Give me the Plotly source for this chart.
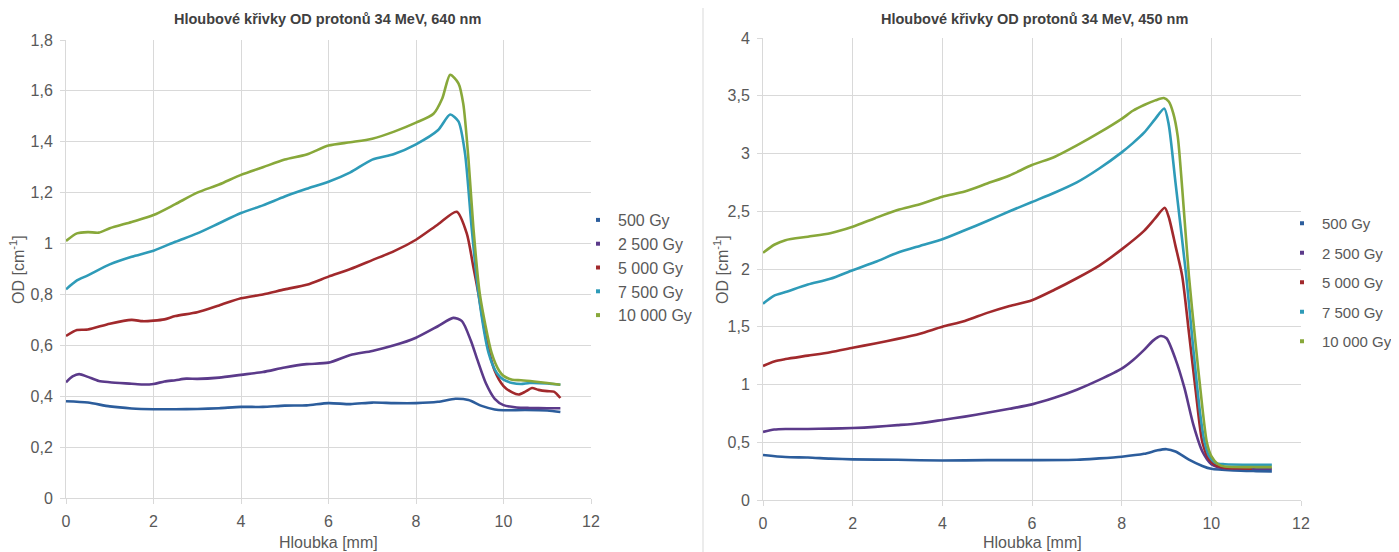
import plotly.graph_objects as go

# ---------------- data: 640 nm (left) ----------------
labels = ["500 Gy", "2 500 Gy", "5 000 Gy", "7 500 Gy", "10 000 Gy"]
colors = ["#2C5D9C", "#5B3A8A", "#A1292C", "#2E9BB8", "#88A83A"]

l_x_500 = [0, 0.5, 1, 1.5, 2, 2.5, 3, 3.5, 4, 4.5, 5, 5.5, 6, 6.5, 7, 7.5, 8, 8.5, 8.9, 9.2, 9.5, 9.8, 10, 10.5, 11, 11.3]
l_y_500 = [0.38, 0.375, 0.36, 0.352, 0.349, 0.349, 0.35, 0.353, 0.358, 0.358, 0.363, 0.364, 0.373, 0.369, 0.375, 0.373, 0.373, 0.378, 0.39, 0.385, 0.362, 0.348, 0.345, 0.346, 0.344, 0.338]

l_x_2500 = [0, 0.15, 0.3, 0.5, 0.75, 1, 1.5, 1.75, 2, 2.25, 2.5, 2.75, 3, 3.5, 4, 4.5, 5, 5.5, 6, 6.5, 7, 7.5, 8, 8.5, 8.85, 9.05, 9.25, 9.4, 9.6, 9.8, 10, 10.3, 10.6, 11, 11.3]
l_y_2500 = [0.455, 0.478, 0.487, 0.476, 0.46, 0.455, 0.449, 0.446, 0.448, 0.458, 0.463, 0.469, 0.468, 0.473, 0.484, 0.495, 0.513, 0.526, 0.532, 0.562, 0.578, 0.6, 0.63, 0.675, 0.708, 0.695, 0.62, 0.545, 0.45, 0.39, 0.365, 0.356, 0.354, 0.353, 0.353]

l_x_5000 = [0, 0.25, 0.5, 1, 1.5, 1.75, 2, 2.25, 2.5, 3, 3.5, 4, 4.5, 5, 5.5, 6, 6.5, 7, 7.5, 8, 8.5, 8.93, 9.16, 9.31, 9.43, 9.6, 9.8, 10, 10.2, 10.35, 10.5, 10.65, 10.8, 11.0, 11.15, 11.3]
l_y_5000 = [0.637, 0.66, 0.662, 0.685, 0.7, 0.695, 0.697, 0.702, 0.715, 0.73, 0.757, 0.785, 0.8, 0.82, 0.838, 0.87, 0.9, 0.935, 0.97, 1.015, 1.075, 1.125, 1.04, 0.909, 0.8, 0.63, 0.5, 0.44, 0.415, 0.407, 0.418, 0.432, 0.425, 0.42, 0.418, 0.393]

l_x_7500 = [0, 0.25, 0.5, 1, 1.5, 2, 2.5, 3, 3.5, 4, 4.5, 5, 5.5, 6, 6.5, 7, 7.5, 8, 8.5, 8.78, 8.97, 9.12, 9.27, 9.43, 9.66, 9.85, 10, 10.2, 10.4, 10.6, 11, 11.3]
l_y_7500 = [0.82, 0.855, 0.875, 0.918, 0.948, 0.972, 1.007, 1.04, 1.08, 1.12, 1.15, 1.185, 1.215, 1.243, 1.28, 1.33, 1.352, 1.39, 1.445, 1.507, 1.48, 1.355, 1.066, 0.8, 0.569, 0.49, 0.465, 0.452, 0.448, 0.452, 0.45, 0.445]

l_x_10000 = [0, 0.25, 0.5, 0.75, 1, 1.5, 2, 2.5, 3, 3.5, 4, 4.5, 5, 5.5, 6, 6.5, 7, 7.5, 8, 8.4, 8.6, 8.78, 8.97, 9.08, 9.2, 9.31, 9.46, 9.73, 9.9, 10, 10.2, 10.4, 10.7, 11, 11.3]
l_y_10000 = [1.01, 1.04, 1.045, 1.043, 1.06, 1.085, 1.112, 1.155, 1.2, 1.232, 1.27, 1.3, 1.33, 1.35, 1.385, 1.398, 1.412, 1.44, 1.475, 1.51, 1.57, 1.663, 1.63, 1.55, 1.33, 1.066, 0.8, 0.569, 0.5, 0.48, 0.465, 0.463, 0.458, 0.452, 0.445]

# ---------------- data: 450 nm (right) ----------------
r_x_500 = [0, 0.5, 1, 1.5, 2, 3, 4, 5, 6, 7, 7.5, 8, 8.5, 8.8, 9.0, 9.2, 9.5, 9.8, 10, 10.5, 11, 11.35]
r_y_500 = [0.39, 0.372, 0.368, 0.358, 0.352, 0.348, 0.342, 0.345, 0.345, 0.348, 0.36, 0.375, 0.4, 0.43, 0.44, 0.42, 0.35, 0.295, 0.27, 0.255, 0.25, 0.248]

r_x_2500 = [0, 0.25, 0.5, 1, 1.5, 2, 2.5, 3, 3.5, 4, 4.5, 5, 5.5, 6, 6.5, 7, 7.5, 8, 8.25, 8.5, 8.7, 8.87, 9.0, 9.2, 9.4, 9.6, 9.8, 10, 10.2, 10.5, 11, 11.35]
r_y_2500 = [0.59, 0.61, 0.615, 0.615, 0.618, 0.623, 0.633, 0.648, 0.665, 0.693, 0.722, 0.755, 0.79, 0.828, 0.885, 0.955, 1.04, 1.137, 1.21, 1.3, 1.38, 1.42, 1.4, 1.22, 0.97, 0.65, 0.42, 0.31, 0.28, 0.272, 0.27, 0.27]

r_x_5000 = [0, 0.25, 0.5, 1, 1.5, 2, 2.5, 3, 3.5, 4, 4.5, 5, 5.5, 6, 6.5, 7, 7.5, 8, 8.5, 8.75, 8.96, 9.05, 9.2, 9.35, 9.5, 9.65, 9.8, 9.95, 10.1, 10.3, 10.6, 10.9]
r_y_5000 = [1.16, 1.2, 1.22, 1.25, 1.28, 1.318, 1.355, 1.395, 1.44, 1.5, 1.55, 1.62, 1.68, 1.73, 1.82, 1.92, 2.03, 2.17, 2.33, 2.44, 2.53, 2.45, 2.2, 1.94, 1.45, 0.95, 0.5, 0.35, 0.3, 0.28, 0.275, 0.27]

r_x_7500 = [0, 0.25, 0.5, 1, 1.5, 2, 2.5, 3, 3.5, 4, 4.5, 5, 5.5, 6, 6.5, 7, 7.5, 8, 8.25, 8.5, 8.75, 8.95, 9.05, 9.2, 9.44, 9.6, 9.75, 9.85, 9.95, 10.1, 10.3, 11, 11.35]
r_y_7500 = [1.7, 1.77, 1.8, 1.865, 1.915, 1.99, 2.06, 2.14, 2.2, 2.257, 2.335, 2.415, 2.5, 2.58, 2.66, 2.75, 2.87, 3.01, 3.09, 3.18, 3.3, 3.39, 3.25, 2.75, 1.94, 1.3, 0.75, 0.5, 0.38, 0.32, 0.31, 0.305, 0.305]

r_x_10000 = [0, 0.25, 0.5, 1, 1.5, 2, 2.5, 3, 3.5, 4, 4.5, 5, 5.5, 6, 6.5, 7, 7.5, 8, 8.25, 8.5, 8.75, 8.94, 9.05, 9.15, 9.25, 9.35, 9.5, 9.65, 9.8, 9.9, 10, 10.15, 10.3, 11, 11.35]
r_y_10000 = [2.14, 2.21, 2.25, 2.28, 2.31, 2.366, 2.44, 2.51, 2.56, 2.626, 2.67, 2.74, 2.81, 2.9, 2.97, 3.07, 3.18, 3.3, 3.37, 3.42, 3.46, 3.48, 3.45, 3.35, 3.15, 2.7, 1.94, 1.35, 0.8, 0.5, 0.38, 0.31, 0.29, 0.285, 0.285]

left_title = "Hloubové křivky OD protonů 34 MeV, 640 nm"
right_title = "Hloubové křivky OD protonů 34 MeV, 450 nm"
x_title = "Hloubka [mm]"
y_title = "OD [cm<sup>-1</sup>]"
left_yticks = [0, 0.2, 0.4, 0.6, 0.8, 1, 1.2, 1.4, 1.6, 1.8]
left_yticklabels = ["0", "0,2", "0,4", "0,6", "0,8", "1", "1,2", "1,4", "1,6", "1,8"]
right_yticks = [0, 0.5, 1, 1.5, 2, 2.5, 3, 3.5, 4]
right_yticklabels = ["0", "0,5", "1", "1,5", "2", "2,5", "3", "3,5", "4"]
xticks = [0, 2, 4, 6, 8, 10, 12]

left_series = [(l_x_500, l_y_500), (l_x_2500, l_y_2500), (l_x_5000, l_y_5000), (l_x_7500, l_y_7500), (l_x_10000, l_y_10000)]
right_series = [(r_x_500, r_y_500), (r_x_2500, r_y_2500), (r_x_5000, r_y_5000), (r_x_7500, r_y_7500), (r_x_10000, r_y_10000)]

FONT = "Liberation Sans"
TXT = "#595959"
GRID = "#D9D9D9"

fig = go.Figure()

for i, (xs, ys) in enumerate(left_series):
    fig.add_trace(go.Scatter(x=xs, y=ys, mode="lines", line=dict(color=colors[i], width=2.6, shape="spline", smoothing=0.7),
                             xaxis="x", yaxis="y", showlegend=False, hoverinfo="skip"))
    fig.add_trace(go.Scatter(x=[None], y=[None], mode="markers", name=labels[i],
                             marker=dict(color=colors[i], symbol="square", size=4),
                             xaxis="x", yaxis="y", legend="legend", legendgroup="L%d" % i))
for i, (xs, ys) in enumerate(right_series):
    fig.add_trace(go.Scatter(x=xs, y=ys, mode="lines", line=dict(color=colors[i], width=2.6, shape="spline", smoothing=0.7),
                             xaxis="x2", yaxis="y2", showlegend=False, hoverinfo="skip"))
    fig.add_trace(go.Scatter(x=[None], y=[None], mode="markers", name=labels[i],
                             marker=dict(color=colors[i], symbol="square", size=4),
                             xaxis="x2", yaxis="y2", legend="legend2", legendgroup="R%d" % i))

# page body has an 8px margin, so the figure is drawn at offset (8, 8)
OFF = 8
W, H = 1399 - OFF, 552 - OFF
def px(x):
    return (x - OFF) / W
def py(y):
    return 1 - (y - OFF) / H

axis_common = dict(showgrid=True, gridcolor=GRID, gridwidth=1, zeroline=False,
                   showline=True, linecolor=GRID, linewidth=1, automargin=False,
                   ticks="outside", ticklen=5, tickcolor=GRID, ticklabelstandoff=4,
                   tickfont=dict(family=FONT, size=16, color=TXT))

fig.update_layout(
    template="none",
    width=W, height=H,
    margin=dict(l=0, r=0, t=0, b=0, pad=0),
    paper_bgcolor="white", plot_bgcolor="white",
    font=dict(family=FONT, color=TXT),
    xaxis=dict(domain=[px(66), px(591)], range=[0, 12], tickvals=xticks, anchor="y", **axis_common),
    yaxis=dict(domain=[py(498), py(40)], range=[0, 1.8], tickvals=left_yticks, ticktext=left_yticklabels, anchor="x", **axis_common),
    xaxis2=dict(domain=[px(763), px(1301)], range=[0, 12], tickvals=xticks, anchor="y2", **axis_common),
    yaxis2=dict(domain=[py(500), py(38)], range=[0, 4], tickvals=right_yticks, ticktext=right_yticklabels, anchor="x2", **axis_common),
    legend=dict(x=px(578), y=py(203), xanchor="left", yanchor="top", bgcolor="rgba(0,0,0,0)",
                font=dict(family=FONT, size=16, color=TXT), tracegroupgap=0, itemwidth=30),
    legend2=dict(x=px(1282), y=py(207), xanchor="left", yanchor="top", bgcolor="rgba(0,0,0,0)",
                 font=dict(family=FONT, size=15, color=TXT), tracegroupgap=7, itemwidth=30),
    shapes=[dict(type="line", xref="paper", yref="paper", x0=px(703), x1=px(703), y0=0, y1=1,
                 line=dict(color=GRID, width=1))],
    annotations=[
        dict(text="<b>" + left_title + "</b>", x=px(327), y=py(19), xref="paper", yref="paper", showarrow=False,
             xanchor="center", yanchor="middle", font=dict(family=FONT, size=14.5, color="#404040")),
        dict(text="<b>" + right_title + "</b>", x=px(1034), y=py(19), xref="paper", yref="paper", showarrow=False,
             xanchor="center", yanchor="middle", font=dict(family=FONT, size=14.5, color="#404040")),
        dict(text=x_title, x=px(328), y=py(542), xref="paper", yref="paper", showarrow=False,
             xanchor="center", yanchor="middle", font=dict(family=FONT, size=16, color=TXT)),
        dict(text=x_title, x=px(1032), y=py(542), xref="paper", yref="paper", showarrow=False,
             xanchor="center", yanchor="middle", font=dict(family=FONT, size=16, color=TXT)),
        dict(text=y_title, x=px(17), y=py(270), xref="paper", yref="paper", showarrow=False, textangle=-90,
             xanchor="center", yanchor="middle", font=dict(family=FONT, size=16, color=TXT)),
        dict(text=y_title, x=px(721), y=py(270), xref="paper", yref="paper", showarrow=False, textangle=-90,
             xanchor="center", yanchor="middle", font=dict(family=FONT, size=16, color=TXT)),
    ],
)

fig.write_html("out.html")
